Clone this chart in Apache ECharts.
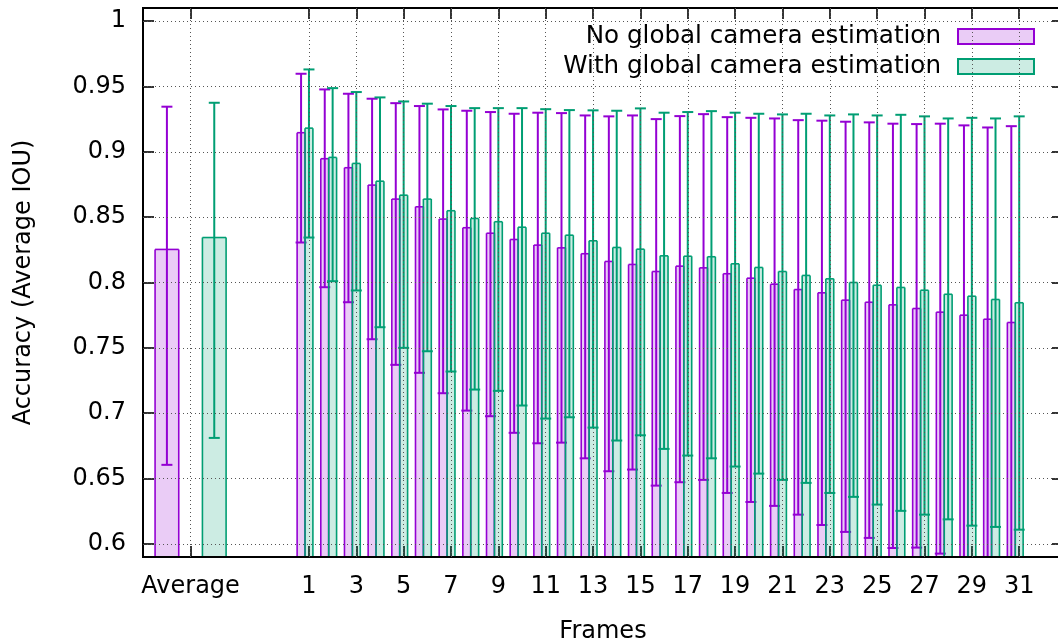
<!DOCTYPE html>
<html>
<head>
<meta charset="utf-8">
<script src="https://cdn.jsdelivr.net/npm/echarts@6/dist/echarts.min.js"></script>
<style>
html,body{margin:0;padding:0;background:#fff;}
#chart{width:1058px;height:642px;}
</style>
</head>
<body>
<div id="chart"></div>
<script>
// ---------- DATA ----------
const seriesNames = ['No global camera estimation', 'With global camera estimation'];
const avgLabel = 'Average';
const frameLabels = ['1','2','3','4','5','6','7','8','9','10','11','12','13','14','15','16',
  '17','18','19','20','21','22','23','24','25','26','27','28','29','30','31'];
const xTickLabels = ['Average','1','3','5','7','9','11','13','15','17','19','21','23','25','27','29','31'];
const yTickValues = [0.6, 0.65, 0.7, 0.75, 0.8, 0.85, 0.9, 0.95, 1];

// Average: [mean, low, high]
const avgNoGlobal = [0.8253, 0.6605, 0.9345];
const avgWithGlobal = [0.8344, 0.6811, 0.9375];

const noGlobalMean = [0.9146, 0.8947, 0.8878, 0.8745, 0.8638, 0.8579, 0.8485, 0.8419, 0.8377, 0.8329,
  0.8286, 0.8265, 0.8220, 0.8161, 0.8138, 0.8084, 0.8125, 0.8112, 0.8067, 0.8033,
  0.7987, 0.7946, 0.7921, 0.7865, 0.7849, 0.7829, 0.7801, 0.7773, 0.7750, 0.7719, 0.7694];
const noGlobalLow = [0.8306, 0.7964, 0.7849, 0.7566, 0.7370, 0.7309, 0.7153, 0.7020, 0.6977, 0.6850,
  0.6770, 0.6775, 0.6655, 0.6556, 0.6569, 0.6446, 0.6472, 0.6490, 0.6390, 0.6321,
  0.6291, 0.6224, 0.6145, 0.6092, 0.6046, 0.5969, 0.5972, 0.5926, 0.585, 0.583, 0.581];
const noGlobalHigh = [0.9597, 0.9477, 0.9444, 0.9406, 0.9372, 0.9350, 0.9324, 0.9314, 0.9304, 0.9291,
  0.9299, 0.9296, 0.9278, 0.9271, 0.9278, 0.9250, 0.9273, 0.9288, 0.9265, 0.9260,
  0.9255, 0.9242, 0.9238, 0.9230, 0.9225, 0.9215, 0.9212, 0.9215, 0.9202, 0.9186, 0.9196];

const withGlobalMean = [0.9181, 0.8957, 0.8911, 0.8775, 0.8668, 0.8638, 0.8549, 0.8490, 0.8465, 0.8423,
  0.8377, 0.8362, 0.8319, 0.8268, 0.8255, 0.8204, 0.8201, 0.8197, 0.8143, 0.8115,
  0.8084, 0.8054, 0.8028, 0.8000, 0.7979, 0.7962, 0.7941, 0.7910, 0.7895, 0.7870, 0.7845];
const withGlobalLow = [0.8344, 0.8010, 0.7939, 0.7658, 0.7500, 0.7474, 0.7319, 0.7181, 0.7171, 0.7059,
  0.6959, 0.6969, 0.6890, 0.6791, 0.6831, 0.6727, 0.6676, 0.6655, 0.6592, 0.6538,
  0.6490, 0.6467, 0.6390, 0.6360, 0.6301, 0.6253, 0.6224, 0.6188, 0.6140, 0.6130, 0.6109];
const withGlobalHigh = [0.9630, 0.9487, 0.9457, 0.9416, 0.9385, 0.9368, 0.9350, 0.9334, 0.9334, 0.9334,
  0.9326, 0.9319, 0.9317, 0.9314, 0.9332, 0.9299, 0.9304, 0.9311, 0.9299, 0.9291,
  0.9286, 0.9291, 0.9278, 0.9286, 0.9278, 0.9283, 0.9271, 0.9255, 0.9260, 0.9255, 0.9271];

// ---------- LAYOUT / STYLE ----------
const FONT = 'DejaVu Sans';
const AVG_POS = -4;          // x slot of the "Average" group
const AVG_OFFSET = 1;        // average bars left/right of the tick
const AVG_WIDTH = 1;
const FRAME_WIDTH = 1 / 3;
const FRAME_OFFSETS = [-1 / 3, 0];
const COLORS = ['#9400D3', '#009E73'];
const FILLS = ['rgba(148,0,211,0.2)', 'rgba(0,158,115,0.2)'];

function posOf(label) { return label === avgLabel ? AVG_POS : Number(label); }
const xTickPos = xTickLabels.map(posOf);
const labelByPos = {};
xTickLabels.forEach(function (l) { labelByPos[posOf(l)] = l; });

function buildData(sIdx, avg, mean, low, high) {
  const d = [[AVG_POS + (sIdx === 0 ? -AVG_OFFSET : AVG_OFFSET), avg[0], avg[1], avg[2], AVG_WIDTH]];
  frameLabels.forEach(function (f, i) {
    d.push([posOf(f) + FRAME_OFFSETS[sIdx], mean[i], low[i], high[i], FRAME_WIDTH]);
  });
  return d;
}

function makeRender(color, fill) {
  return function (params, api) {
    const cs = params.coordSys;
    const bottom = cs.y + cs.height;
    const x = api.value(0), m = api.value(1), lo = api.value(2), hi = api.value(3), w = api.value(4);
    const pl = api.coord([x - w / 2, m]);
    const pr = api.coord([x + w / 2, m]);
    const cx = api.coord([x, m])[0];
    const yHi = api.coord([x, hi])[1];
    let yLo = api.coord([x, lo])[1];
    const clipped = yLo > bottom;
    if (clipped) yLo = bottom - 1;
    const cap = 5.5;
    const bw = 1.6, ew = 2;
    const children = [
      { type: 'rect', shape: { x: pl[0], y: pl[1], width: pr[0] - pl[0], height: bottom - 1 - pl[1] },
        style: { fill: fill, stroke: null } },
      { type: 'line', shape: { x1: pl[0], y1: bottom - 1, x2: pl[0], y2: pl[1] }, style: { stroke: color, lineWidth: bw } },
      { type: 'line', shape: { x1: pl[0], y1: pl[1], x2: pr[0], y2: pl[1] }, style: { stroke: color, lineWidth: bw } },
      { type: 'line', shape: { x1: pr[0], y1: pl[1], x2: pr[0], y2: bottom - 1 }, style: { stroke: color, lineWidth: bw } },
      { type: 'line', shape: { x1: cx, y1: yHi, x2: cx, y2: yLo }, style: { stroke: color, lineWidth: ew } },
      { type: 'line', shape: { x1: cx - cap, y1: yHi, x2: cx + cap, y2: yHi }, style: { stroke: color, lineWidth: ew } }
    ];
    if (!clipped) {
      children.push({ type: 'line', shape: { x1: cx - cap, y1: yLo, x2: cx + cap, y2: yLo }, style: { stroke: color, lineWidth: ew } });
    }
    return { type: 'group', children: children };
  };
}

const chart = echarts.init(document.getElementById('chart'), null, { renderer: 'canvas' });

const X_MIN = -6.01, X_MAX = 32.85, Y_MIN = 0.59, Y_MAX = 1.01;
const tickStyle = { color: '#000', width: 1.6 };
const gridLineStyle = { color: '#555', width: 1, type: [1, 3] };

const gridMarks = xTickPos.map(function (v) { return { xAxis: v }; })
  .concat(yTickValues.map(function (v) { return { yAxis: v }; }));

chart.setOption({
  animation: false,
  backgroundColor: '#fff',
  textStyle: { fontFamily: FONT },
  grid: {
    left: 143, right: -5, top: 8, bottom: 85,
    show: true, borderColor: '#000', borderWidth: 2, backgroundColor: 'transparent',
    outerBoundsMode: 'none', containLabel: false
  },
  legend: {
    orient: 'vertical', align: 'right', right: 23, top: 24, padding: 0,
    itemWidth: 76, itemHeight: 15, itemGap: 5,
    textStyle: { fontFamily: FONT, fontSize: 24.6, lineHeight: 24, color: '#000', padding: [0, 12, 0, 0] },
    data: [
      { name: seriesNames[0], icon: 'rect', itemStyle: { color: FILLS[0], borderColor: COLORS[0], borderWidth: 2 } },
      { name: seriesNames[1], icon: 'rect', itemStyle: { color: FILLS[1], borderColor: COLORS[1], borderWidth: 2 } }
    ]
  },
  xAxis: [
    {
      type: 'value', position: 'bottom', min: X_MIN, max: X_MAX,
      axisLine: { show: false, onZero: false },
      axisTick: { show: true, inside: true, length: 11, lineStyle: tickStyle, customValues: xTickPos },
      axisLabel: {
        show: true, customValues: xTickPos, margin: 18, fontSize: 24, color: '#000', fontFamily: FONT,
        formatter: function (v) { return labelByPos[v] !== undefined ? labelByPos[v] : ''; }
      },
      splitLine: { show: false },
      name: 'Frames', nameLocation: 'middle', nameGap: 63,
      nameTextStyle: { fontSize: 24, color: '#000', fontFamily: FONT }
    },
    {
      type: 'value', position: 'top', min: X_MIN, max: X_MAX,
      axisLine: { show: false, onZero: false },
      axisTick: { show: true, inside: true, length: 11, lineStyle: tickStyle, customValues: xTickPos },
      axisLabel: { show: false },
      splitLine: { show: false }
    }
  ],
  yAxis: [
    {
      type: 'value', position: 'left', min: Y_MIN, max: Y_MAX,
      axisLine: { show: false, onZero: false },
      axisTick: { show: true, inside: true, length: 11, lineStyle: tickStyle, customValues: yTickValues },
      axisLabel: { show: true, customValues: yTickValues, margin: 17, fontSize: 24, color: '#000', fontFamily: FONT },
      splitLine: { show: false },
      name: 'Accuracy (Average IOU)', nameLocation: 'middle', nameGap: 107,
      nameTextStyle: { fontSize: 24, color: '#000', fontFamily: FONT }
    },
    {
      type: 'value', position: 'right', min: Y_MIN, max: Y_MAX,
      axisLine: { show: false, onZero: false },
      axisTick: { show: true, inside: true, length: 11, lineStyle: tickStyle, customValues: yTickValues },
      axisLabel: { show: false },
      splitLine: { show: false }
    }
  ],
  series: [
    {
      name: 'grid', type: 'line', xAxisIndex: 0, yAxisIndex: 0, data: [],
      silent: true, z: 1,
      markLine: {
        silent: true, symbol: 'none', animation: false,
        label: { show: false },
        lineStyle: gridLineStyle,
        emphasis: { disabled: true },
        data: gridMarks
      }
    },
    {
      name: seriesNames[0], type: 'custom', xAxisIndex: 0, yAxisIndex: 0,
      itemStyle: { color: COLORS[0] },
      renderItem: makeRender(COLORS[0], FILLS[0]),
      data: buildData(0, avgNoGlobal, noGlobalMean, noGlobalLow, noGlobalHigh),
      z: 3
    },
    {
      name: seriesNames[1], type: 'custom', xAxisIndex: 0, yAxisIndex: 0,
      itemStyle: { color: COLORS[1] },
      renderItem: makeRender(COLORS[1], FILLS[1]),
      data: buildData(1, avgWithGlobal, withGlobalMean, withGlobalLow, withGlobalHigh),
      z: 4
    }
  ]
});
</script>
</body>
</html>
